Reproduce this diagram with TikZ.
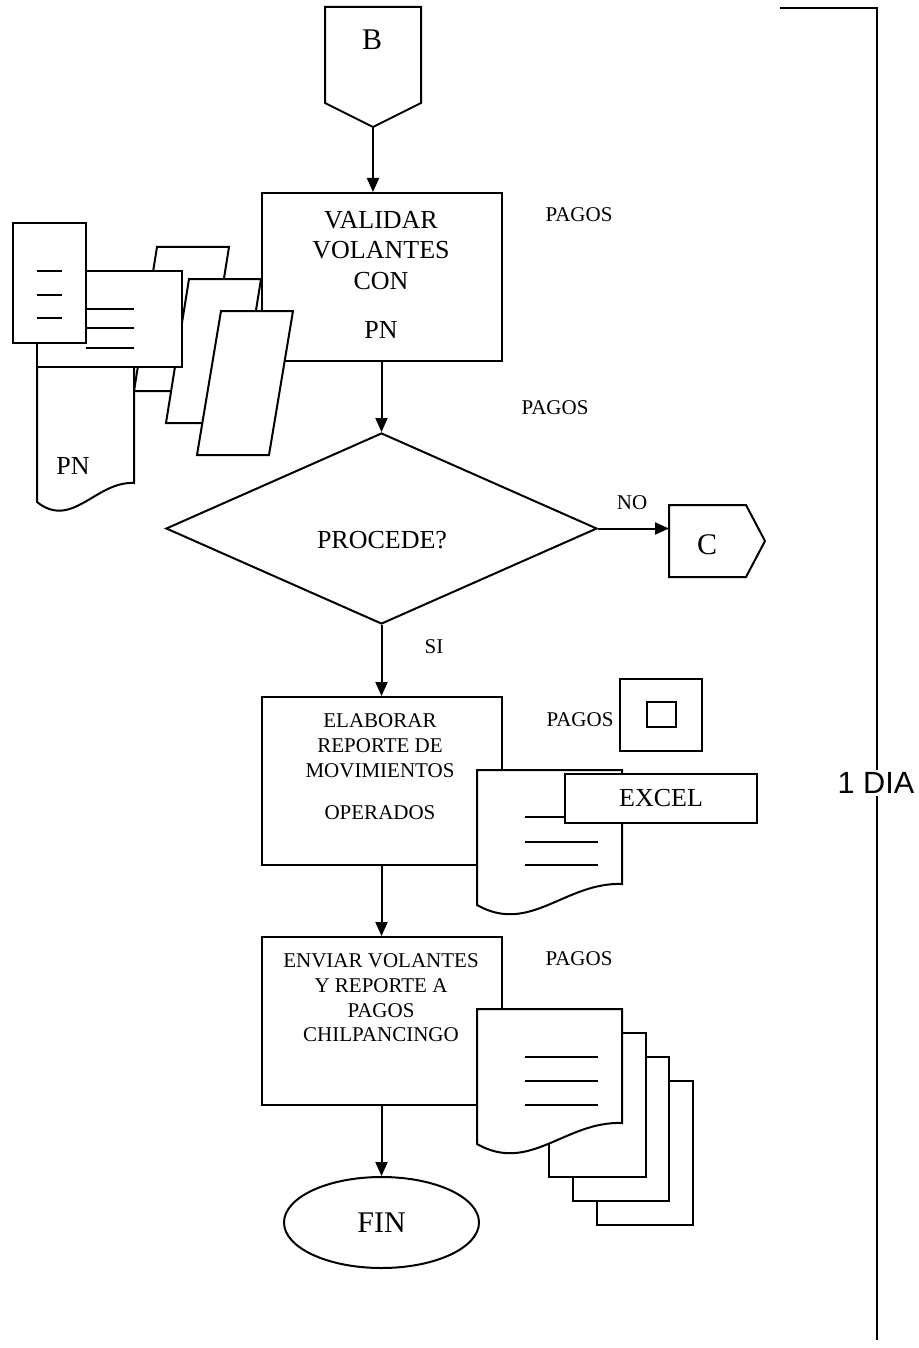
\documentclass[tikz,border=0pt]{standalone}
\usepackage{fontspec}
\setmainfont{Liberation Serif}
\setsansfont{Liberation Sans}
\usepackage{tikz}
\usetikzlibrary{shapes.geometric,arrows.meta}

\begin{document}
\begin{tikzpicture}[x=0.75pt,y=0.75pt,yscale=-1,xscale=1,line width=1.5pt,
  box/.style={draw,fill=white,minimum width=180pt,minimum height=126pt,inner sep=0pt},
  flow/.style={-{Triangle[length=10.5pt,width=9pt]}},
  sheet/.style={draw,fill=white},
  bigtxt/.style={font=\fontsize{19.5}{23}\selectfont,align=center,inner sep=0pt},
  hugetxt/.style={font=\fontsize{22.5}{26}\selectfont,inner sep=0pt},
  smalltxt/.style={font=\fontsize{15.75}{18.5}\selectfont,align=center,inner sep=0pt}]
\useasboundingbox (0,0) rectangle (919,1348);

% Off-page connector B
\draw [sheet] (325,7) -- (421,7) -- (421,103) -- (373,127) -- (325,103) -- cycle ;
\coordinate (b-tip) at (373,127);
% Text Node
\node [hugetxt] (conn-b) at (372,40) {B};

% Process: validar
\node [box] (validar) at (381.5,277) {};
% Text Node
\node [bigtxt] (validar-txt) at (381,275) {VALIDAR\\VOLANTES\\CON\\[14pt]PN};
% Text Node
\node [smalltxt] (pagos-1) at (579,215) {PAGOS};

% Input slips
\draw [sheet] (157,247) -- (229,247) -- (206,391) -- (134,391) -- cycle ;
\draw [sheet] (189,279) -- (261,279) -- (238,423) -- (166,423) -- cycle ;
\draw [sheet] (221,311) -- (293,311) -- (269,455) -- (197,455) -- cycle ;
% Document PN
\draw [sheet] (37,271) -- (134,271) -- (134,483) .. controls (96,481) and (72,530) .. (37,502) -- cycle ;
% Text Node
\node [bigtxt] (pn-doc) at (73,466) {PN};
\draw [sheet] (37,271) rectangle (182,367) ;
\draw (86,309) -- (134,309) (86,328) -- (134,328) (86,348) -- (134,348) ;
\draw [sheet] (13,223) rectangle (86,343) ;
\draw (37,271) -- (62,271) (37,295) -- (62,295) (37,318) -- (62,318) ;

% Decision
\node [draw,diamond,minimum width=323.25pt,minimum height=143.25pt,inner sep=0pt] (procede) at (381.5,528.5) {};
% Text Node
\node [bigtxt] (procede-txt) at (382,540) {PROCEDE?};
% Text Node
\node [smalltxt] (pagos-2) at (555,408) {PAGOS};
% Text Node
\node [smalltxt] (no-lbl) at (632,503) {NO};
% Text Node
\node [smalltxt] (si-lbl) at (434,647) {SI};

% Off-page connector C
\draw [sheet] (669,505) -- (746,505) -- (765,541) -- (746,577) -- (669,577) -- cycle ;
\coordinate (c-in) at (669,528.5);
% Text Node
\node [hugetxt] (conn-c) at (707,545) {C};

% Process: elaborar
\node [box] (elaborar) at (381.5,781) {};
% Text Node
\node [smalltxt] (elaborar-txt) at (380,767) {ELABORAR\\REPORTE DE\\MOVIMIENTOS\\[13.5pt]OPERADOS};
% Text Node
\node [smalltxt] (pagos-3) at (580,720) {PAGOS};
% Monitor
\draw (620,679) rectangle (702,751) ;
\draw (647,702) rectangle (676,727) ;
% Report document
\draw [sheet] (477,770) -- (622,770) -- (622,884) .. controls (565,882) and (530,935) .. (477,905) -- cycle ;
\draw (525,817) -- (598,817) (525,842) -- (598,842) (525,865) -- (598,865) ;
\node [draw,fill=white,bigtxt,minimum width=144pt,minimum height=36.75pt] (excel) at (661,798.5) {EXCEL};

% Process: enviar
\node [box] (enviar) at (381.5,1021) {};
% Text Node
\node [smalltxt] (enviar-txt) at (381,998) {ENVIAR VOLANTES\\Y REPORTE A\\PAGOS\\CHILPANCINGO};
% Text Node
\node [smalltxt] (pagos-4) at (579,959) {PAGOS};
% Stacked documents
\draw [sheet] (597,1081) rectangle (693,1225) ;
\draw [sheet] (573,1057) rectangle (669,1201) ;
\draw [sheet] (549,1033) rectangle (646,1177) ;
\draw [sheet] (477,1009) -- (622,1009) -- (622,1123) .. controls (565,1121) and (530,1174) .. (477,1144) -- cycle ;
\draw (525,1057) -- (598,1057) (525,1081) -- (598,1081) (525,1105) -- (598,1105) ;

% Terminator
\node [draw,ellipse,minimum width=146.25pt,minimum height=68.25pt,inner sep=0pt,hugetxt] (fin) at (381.5,1222.5) {FIN};

% Connection
\draw [flow] (b-tip) -- (b-tip |- validar.north) ;
% Connection
\draw [flow] (validar.south) -- (procede.north) ;
% Connection
\draw [flow] (procede.east) -- (c-in) ;
% Connection
\draw [flow] (procede.south) -- (elaborar.north) ;
% Connection
\draw [flow] (elaborar.south) -- (enviar.north) ;
% Connection
\draw [flow] (enviar.south) -- (fin.north) ;

% Time bracket
\draw [line width=1.1pt] (780,8) -- (877,8) -- (877,1340) ;
% Text Node
\node [fill=white,inner sep=1.5pt,font=\fontsize{23}{27}\sffamily] (tiempo) at (876,783) {1 DIA};
\end{tikzpicture}
\end{document}
